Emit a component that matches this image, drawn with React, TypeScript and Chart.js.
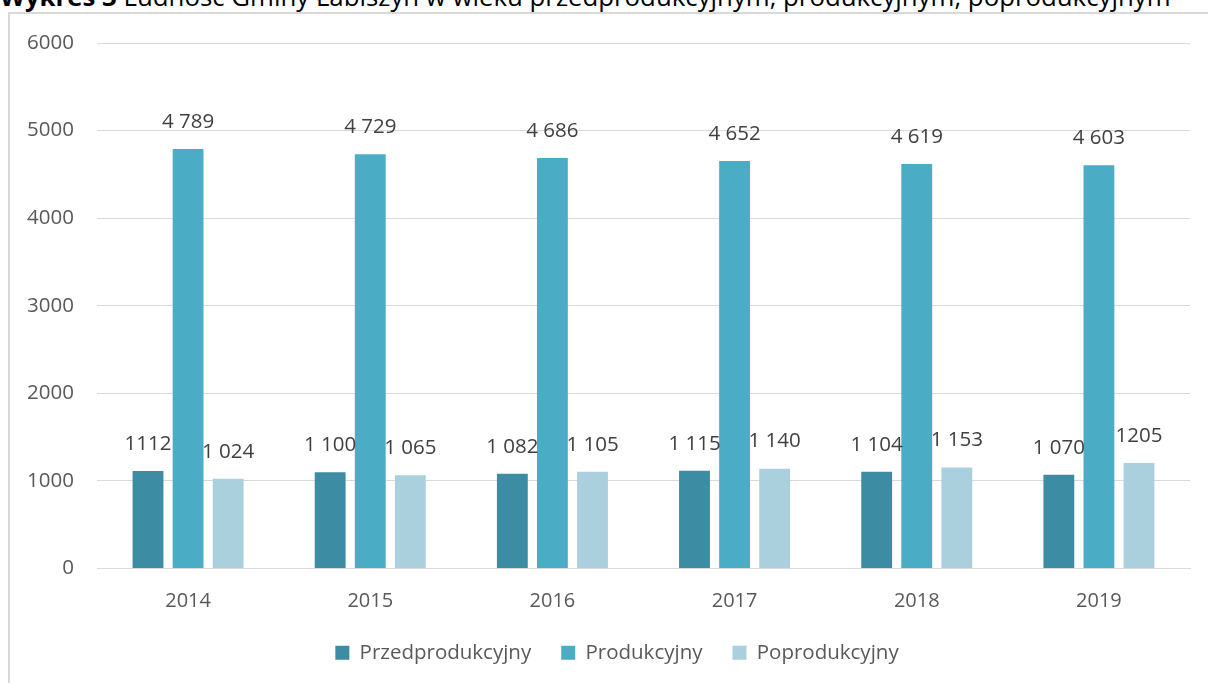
import React, { useEffect, useRef } from "react";
import { Chart, registerables } from "chart.js";

Chart.register(...registerables);

const years = ["2014", "2015", "2016", "2017", "2018", "2019"];
const seriesNames = ["Przedprodukcyjny", "Produkcyjny", "Poprodukcyjny"];
const przed = [1112, 1100, 1082, 1115, 1104, 1070];
const prod = [4789, 4729, 4686, 4652, 4619, 4603];
const popr = [1024, 1065, 1105, 1140, 1153, 1205];
const przedLabels = ["1112", "1 100", "1 082", "1 115", "1 104", "1 070"];
const prodLabels = ["4 789", "4 729", "4 686", "4 652", "4 619", "4 603"];
const poprLabels = ["1 024", "1 065", "1 105", "1 140", "1 153", "1205"];
const yTicks = [0, 1000, 2000, 3000, 4000, 5000, 6000];

const colors = ["#3C8CA3", "#4BACC6", "#AACFDD"];
const FONT = "'Open Sans', sans-serif";

const labelPlugin = {
  id: "valueLabels",
  afterDatasetsDraw(chart: any) {
    const ctx = chart.ctx;
    const allLabels = [przedLabels, prodLabels, poprLabels];
    ctx.save();
    ctx.font = `20.5px ${FONT}`;
    ctx.fillStyle = "#404040";
    ctx.textAlign = "center";
    ctx.textBaseline = "middle";
    chart.data.datasets.forEach((_: any, di: number) => {
      const meta = chart.getDatasetMeta(di);
      meta.data.forEach((bar: any, i: number) => {
        ctx.fillText(allLabels[di][i], bar.x, bar.y - 27);
      });
    });
    ctx.restore();
  },
};

const legendShift = {
  id: "legendShift",
  afterLayout(chart: any) {
    const l = chart.legend;
    if (l) {
      l.left += 22;
      l.right += 22;
    }
  },
};

export default function App() {
  const ref = useRef<HTMLCanvasElement>(null);
  useEffect(() => {
    if (!ref.current) return;
    const chart = new Chart(ref.current, {
      type: "bar",
      data: {
        labels: years,
        datasets: [przed, prod, popr].map((d, i) => ({
          label: seriesNames[i],
          data: d,
          backgroundColor: colors[i],
          borderWidth: 0,
          categoryPercentage: 0.66,
          barPercentage: 0.77,
        })),
      },
      options: {
        responsive: false,
        animation: false,
        devicePixelRatio: 1,
        layout: { padding: { top: 43, right: 18, bottom: 10, left: 0 } },
        plugins: {
          title: { display: false },
          tooltip: { enabled: false },
          legend: {
            position: "bottom",
            labels: {
              boxWidth: 14,
              boxHeight: 14,
              padding: 30,
              color: "#595959",
              font: { family: FONT, size: 20.5 },
            },
          },
        },
        scales: {
          x: {
            grid: { display: false, drawTicks: false },
            border: { display: true, color: "#D9D9D9", width: 1 },
            ticks: { color: "#595959", font: { family: FONT, size: 20 }, padding: 21 },
            afterFit: (s: any) => {
              s.height = 44;
            },
          },
          y: {
            min: 0,
            max: 6000,
            afterBuildTicks: (s: any) => {
              s.ticks = yTicks.map((v) => ({ value: v }));
            },
            grid: { color: "#D9D9D9", drawTicks: false },
            border: { display: false },
            ticks: {
              color: "#595959",
              font: { family: FONT, size: 20.5 },
              padding: 23,
              callback: (v: any) => String(v),
            },
            afterFit: (s: any) => {
              s.width = 97;
            },
          },
        },
      },
      plugins: [labelPlugin, legendShift],
    });
    return () => chart.destroy();
  }, []);

  return (
    <div style={{ position: "fixed", left: 0, top: 0, width: 1208, height: 683, overflow: "hidden", background: "#fff" }}>
      <div
        style={{
          position: "absolute",
          left: 0,
          top: -17,
          fontFamily: FONT,
          fontSize: 25.8,
          lineHeight: "26px",
          color: "#000",
          whiteSpace: "nowrap",
        }}
      >
        <b>Wykres 3</b> Ludność Gminy Łabiszyn w wieku przedprodukcyjnym, produkcyjnym, poprodukcyjnym
      </div>
      <div
        style={{
          position: "absolute",
          left: 8,
          top: 12,
          width: 1300,
          height: 800,
          border: "2px solid #D9D9D9",
          boxSizing: "border-box",
        }}
      />
      <canvas ref={ref} width={1208} height={683} style={{ position: "absolute", left: 0, top: 0 }} />
    </div>
  );
}
